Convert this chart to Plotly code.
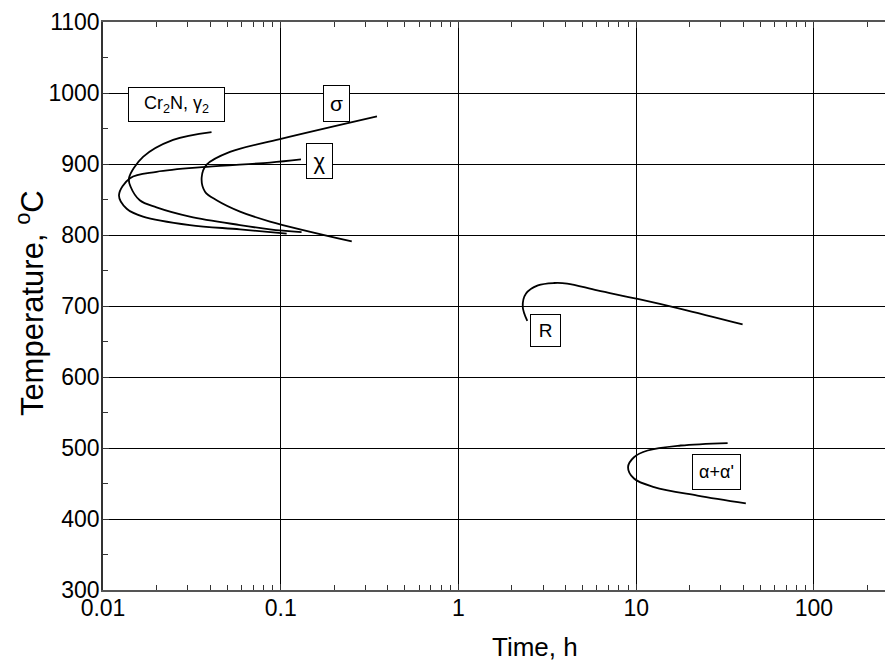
import numpy as np
import plotly.graph_objects as go

# ---- data (time in hours, temperature in °C) ----
cr2n_t = [0.0408, 0.0248, 0.0168, 0.0140, 0.0143, 0.0161, 0.0200, 0.0308, 0.059, 0.087, 0.131]
cr2n_T = [945, 934, 910, 880, 868, 849, 839, 826, 814, 808, 804]

chi_t = [0.130, 0.087, 0.0383, 0.020, 0.0142, 0.0123, 0.0136, 0.0168, 0.0308, 0.059, 0.108]
chi_T = [906.5, 902, 896, 889, 880, 856, 837, 826, 814, 808, 802]

sigma_t = [0.348, 0.099, 0.0518, 0.0383, 0.0359, 0.0375, 0.0436, 0.059, 0.087, 0.251]
sigma_T = [967, 935, 917, 899, 881, 861, 849, 833, 819, 791]

r_t = [2.44, 2.30, 2.40, 2.80, 3.45, 4.09, 6.04, 10.2, 17.8, 39.7]
r_T = [679, 699, 717.5, 729, 732.4, 731.6, 722, 710, 696, 674]

aa_t = [32.7, 17.8, 11.6, 9.72, 9.0, 9.72, 12.6, 22.1, 41.4]
aa_T = [507, 503.5, 496.5, 487, 473, 457, 445, 433, 422]

label_text = ["Cr<sub>2</sub>N, γ<sub>2</sub>", "σ", "χ", "R", "α+α'"]
label_t = [0.026, 0.206, 0.166, 3.07, 28.2]
label_T = [984, 985, 904, 665, 466]
label_w = [93, 23, 23, 27, 45]
label_h = [31, 33, 32, 29, 32]
label_size = [18, 21, 22, 19, 18]

x_tickvals = [0.01, 0.1, 1, 10, 100]
x_ticktext = ["0.01", "0.1", "1", "10", "100"]
x_minorvals = [m * d for d in [0.01, 0.1, 1, 10, 100] for m in range(2, 10)]
y_tickvals = [300, 400, 500, 600, 700, 800, 900, 1000, 1100]

FONT = "Liberation Sans, Arial, sans-serif"

fig = go.Figure()
for tt, TT in [(cr2n_t, cr2n_T), (chi_t, chi_T), (sigma_t, sigma_T), (r_t, r_T), (aa_t, aa_T)]:
    fig.add_trace(go.Scatter(x=tt, y=TT, mode="lines",
                             line=dict(color="black", width=1.8, shape="spline", smoothing=1.0),
                             showlegend=False, hoverinfo="skip"))

for txt, t, T, w, h, s in zip(label_text, label_t, label_T, label_w, label_h, label_size):
    fig.add_annotation(x=np.log10(t), y=T, xref="x", yref="y", text=txt, showarrow=False,
                       font=dict(family=FONT, size=s, color="black"),
                       bgcolor="white", bordercolor="black", borderwidth=1, borderpad=1,
                       width=w, height=h, align="center", valign="middle")

# axis titles as annotations (original plot was cropped on the right)
fig.add_annotation(x=0.5524, y=-0.1, xref="paper", yref="paper", text="Time, h",
                   showarrow=False, font=dict(family=FONT, size=26, color="black"),
                   xanchor="center", yanchor="middle")
fig.add_annotation(x=-0.0934, y=0.505, xref="paper", yref="paper",
                   text="Temperature, <sup>o</sup>C", textangle=-90,
                   showarrow=False, font=dict(family=FONT, size=31, color="black"),
                   xanchor="center", yanchor="middle")

fig.update_layout(
    width=885, height=662,
    margin=dict(l=103, r=0, t=22, b=72),
    paper_bgcolor="white", plot_bgcolor="white",
    font=dict(family=FONT, color="black"),
)
fig.update_xaxes(
    type="log", range=[-2, 2.40], automargin=False,
    tickvals=x_tickvals, ticktext=x_ticktext,
    tickfont=dict(family=FONT, size=23, color="black"), ticklabelstandoff=-4,
    showgrid=True, gridcolor="black", gridwidth=1,
    showline=True, linecolor="#555", linewidth=2, mirror="allticks",
    ticks="inside", ticklen=6, tickcolor="#333",
    minor=dict(tickmode="array", tickvals=x_minorvals, ticks="inside", ticklen=5,
               tickcolor="#333", showgrid=False),
    zeroline=False,
)
fig.update_yaxes(
    range=[300, 1100], tickvals=y_tickvals, automargin=False,
    tickfont=dict(family=FONT, size=23, color="black"), ticklabelstandoff=-3,
    showgrid=True, gridcolor="black", gridwidth=1,
    showline=True, linecolor="#333", linewidth=1.5, mirror=False,
    ticks="inside", ticklen=6, tickcolor="#333",
    minor=dict(ticks="inside", ticklen=5, tickcolor="#333", dtick=50, showgrid=False),
    zeroline=False,
)

fig.write_html("out.html", config={"displayModeBar": False},
               post_script="document.body.style.margin='0';")
